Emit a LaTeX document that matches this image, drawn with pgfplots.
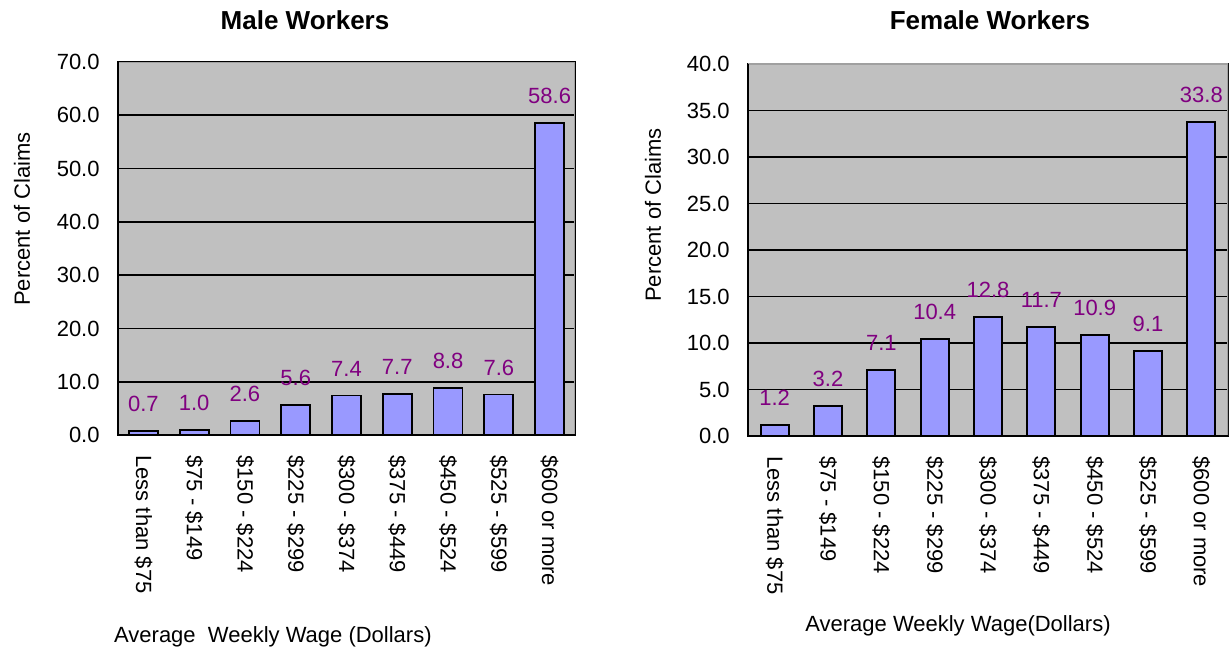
\documentclass[border=0pt]{standalone}
\usepackage{fontspec}
\setmainfont{Liberation Sans}
\usepackage{pgfplots}
\pgfplotsset{compat=1.18}
\definecolor{barfill}{HTML}{9999FF}
\definecolor{plotbg}{HTML}{C0C0C0}
\definecolor{lblpurple}{HTML}{800080}
\definecolor{framegray}{HTML}{A0A0A0}
\pgfplotsset{
  wagebar/.style={
    ybar, scale only axis,
    xmin=-0.5, xmax=8.5,
    xtick={0,...,8},
    xticklabels={Less than \$75, \$75 - \$149, \$150 - \$224, \$225 - \$299, \$300 - \$374, \$375 - \$449, \$450 - \$524, \$525 - \$599, \$600 or more},
    major tick length=0pt,
    axis background/.style={fill=plotbg},
    ymajorgrids, grid style={black, line width=0.8pt},
    axis line style={black, line width=1pt},
    /pgf/number format/assume math mode=true,
    yticklabel={\pgfmathprintnumber[fixed,fixed zerofill,precision=1]{\tick}},
    ticklabel style={font=\fontsize{11}{13}\selectfont},
    yticklabel style={inner xsep=9pt},
    xticklabel style={rotate=-90, anchor=west, inner xsep=10pt},
    label style={font=\fontsize{11}{13}\selectfont},
    nodes near coords={\pgfmathprintnumber[fixed,fixed zerofill,precision=1]{\pgfplotspointmeta}},
    every node near coord/.append style={font=\fontsize{11}{13}\selectfont, text=lblpurple, anchor=center, yshift=13.5pt},
  }
}
\begin{document}
\begin{tikzpicture}
\useasboundingbox (0,0) rectangle (615pt,326.5pt);
% Male workers
\begin{axis}[wagebar,
  at={(59pt,109pt)}, anchor=south west,
  width=228.5pt, height=186.5pt,
  ymin=0, ymax=70, ytick={0,10,...,70},
  bar width=14.5pt,
  ylabel={Percent of Claims},
  ylabel style={at={(axis description cs:-0.21,0.579)}, anchor=center},
  xlabel={Average\ \ Weekly Wage (Dollars)},
  xlabel style={at={(axis description cs:0.339,-0.542)}, anchor=center},
]
\addplot[fill=barfill, draw=black, line width=0.9pt] coordinates {
  (0,0.7) (1,1.0) (2,2.6) (3,5.6) (4,7.4) (5,7.7) (6,8.8) (7,7.6) (8,58.6)};
\draw[framegray, line width=1pt] (rel axis cs:0,1) -- (rel axis cs:1,1) -- (rel axis cs:1,0);
\draw[black, line width=1pt] (rel axis cs:0,1) -- (rel axis cs:0,0) -- (rel axis cs:1,0);
\end{axis}
% Female workers
\begin{axis}[wagebar,
  at={(374pt,108.5pt)}, anchor=south west,
  width=240pt, height=186pt,
  ymin=0, ymax=40, ytick={0,5,...,40},
  bar width=14pt,
  ylabel={Percent of Claims},
  ylabel style={at={(axis description cs:-0.198,0.594)}, anchor=center},
  xlabel={Average Weekly Wage(Dollars)},
  xlabel style={at={(axis description cs:0.4375,-0.511)}, anchor=center},
]
\addplot[fill=barfill, draw=black, line width=0.9pt] coordinates {
  (0,1.2) (1,3.2) (2,7.1) (3,10.4) (4,12.8) (5,11.7) (6,10.9) (7,9.1) (8,33.8)};
\draw[framegray, line width=1pt] (rel axis cs:0,1) -- (rel axis cs:1,1) -- (rel axis cs:1,0);
\draw[black, line width=1pt] (rel axis cs:0,1) -- (rel axis cs:0,0) -- (rel axis cs:1,0);
\end{axis}
\node[font=\bfseries\fontsize{13}{15}\selectfont, anchor=center] at (152.5pt,316.5pt) {Male Workers};
\node[font=\bfseries\fontsize{13}{15}\selectfont, anchor=center] at (495pt,316.5pt) {Female Workers};
\end{tikzpicture}
\end{document}
